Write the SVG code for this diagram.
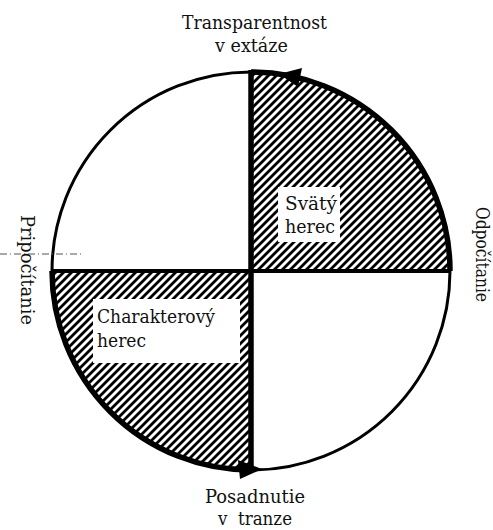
<svg xmlns="http://www.w3.org/2000/svg" width="493" height="530" viewBox="0 0 493 530">
<defs>
<pattern id="hatch" width="8" height="8" patternUnits="userSpaceOnUse">
<path d="M-2,2 L2,-2 M0,8 L8,0 M6,10 L10,6" stroke="#000" stroke-width="2.8"/>
</pattern>
</defs>
<style>
.t{font-family:"DejaVu Serif","Liberation Serif",serif;font-size:18px;fill:#111}
.thin{fill:none;stroke:#000;stroke-width:3}
.thick{fill:none;stroke:#000;stroke-width:5.5}
.ah{fill:#000}
</style>
<rect width="493" height="530" fill="#fff"/>
<g id="quadrants">
<path d="M251,271 L251,72 A199,199 0 0 1 450,271 Z" fill="url(#hatch)"/>
<path d="M251,271 L52,271 A199,199 0 0 0 251,470 Z" fill="url(#hatch)"/>
</g>
<g id="connectors">
<path class="thin" d="M52,271 A199,199 0 0 1 251,72"/>
<path class="thin" d="M450,271 A199,199 0 0 1 251,470"/>
<path class="thick" d="M251,72 A199,199 0 0 1 450,271"/>
<path class="thick" d="M52,271 A199,199 0 0 0 251,470"/>
<line x1="251" y1="70" x2="251" y2="472" stroke="#000" stroke-width="5.5"/>
<line x1="52" y1="271" x2="450" y2="271" stroke="#000" stroke-width="4"/>
<polygon class="ah" points="279,74 302,68 298,87"/>
<polygon class="ah" points="262,469 238,460 240,479"/>
<line x1="0" y1="254" x2="82" y2="254" stroke="#555" stroke-width="1" stroke-dasharray="7 3 1 3"/>
</g>
<g id="svaty-herec">
<rect x="278" y="187" width="62" height="55" fill="#fff"/>
<text class="t" x="285" y="210" textLength="52" lengthAdjust="spacingAndGlyphs">Svätý</text>
<text class="t" x="285" y="233" textLength="50" lengthAdjust="spacingAndGlyphs">herec</text>
</g>
<g id="charakterovy-herec">
<rect x="93" y="299" width="147" height="64" fill="#fff"/>
<text class="t" x="97" y="323" textLength="118" lengthAdjust="spacingAndGlyphs">Charakterový</text>
<text class="t" x="97" y="347" textLength="49" lengthAdjust="spacingAndGlyphs">herec</text>
</g>
<g id="top-label">
<text class="t" x="182" y="29" textLength="145" lengthAdjust="spacingAndGlyphs">Transparentnost</text>
<text class="t" x="215" y="52" textLength="73" lengthAdjust="spacingAndGlyphs">v extáze</text>
</g>
<g id="bottom-label">
<text class="t" x="205" y="503" textLength="100" lengthAdjust="spacingAndGlyphs">Posadnutie</text>
<text class="t" x="218" y="525" textLength="74" lengthAdjust="spacingAndGlyphs" xml:space="preserve">v  tranze</text>
</g>
<g id="left-label">
<text class="t" transform="translate(21,215) rotate(90)" textLength="110" lengthAdjust="spacingAndGlyphs">Pripočítanie</text>
</g>
<g id="right-label">
<text class="t" transform="translate(476,207) rotate(90)" textLength="95" lengthAdjust="spacingAndGlyphs">Odpočítanie</text>
</g>
</svg>
